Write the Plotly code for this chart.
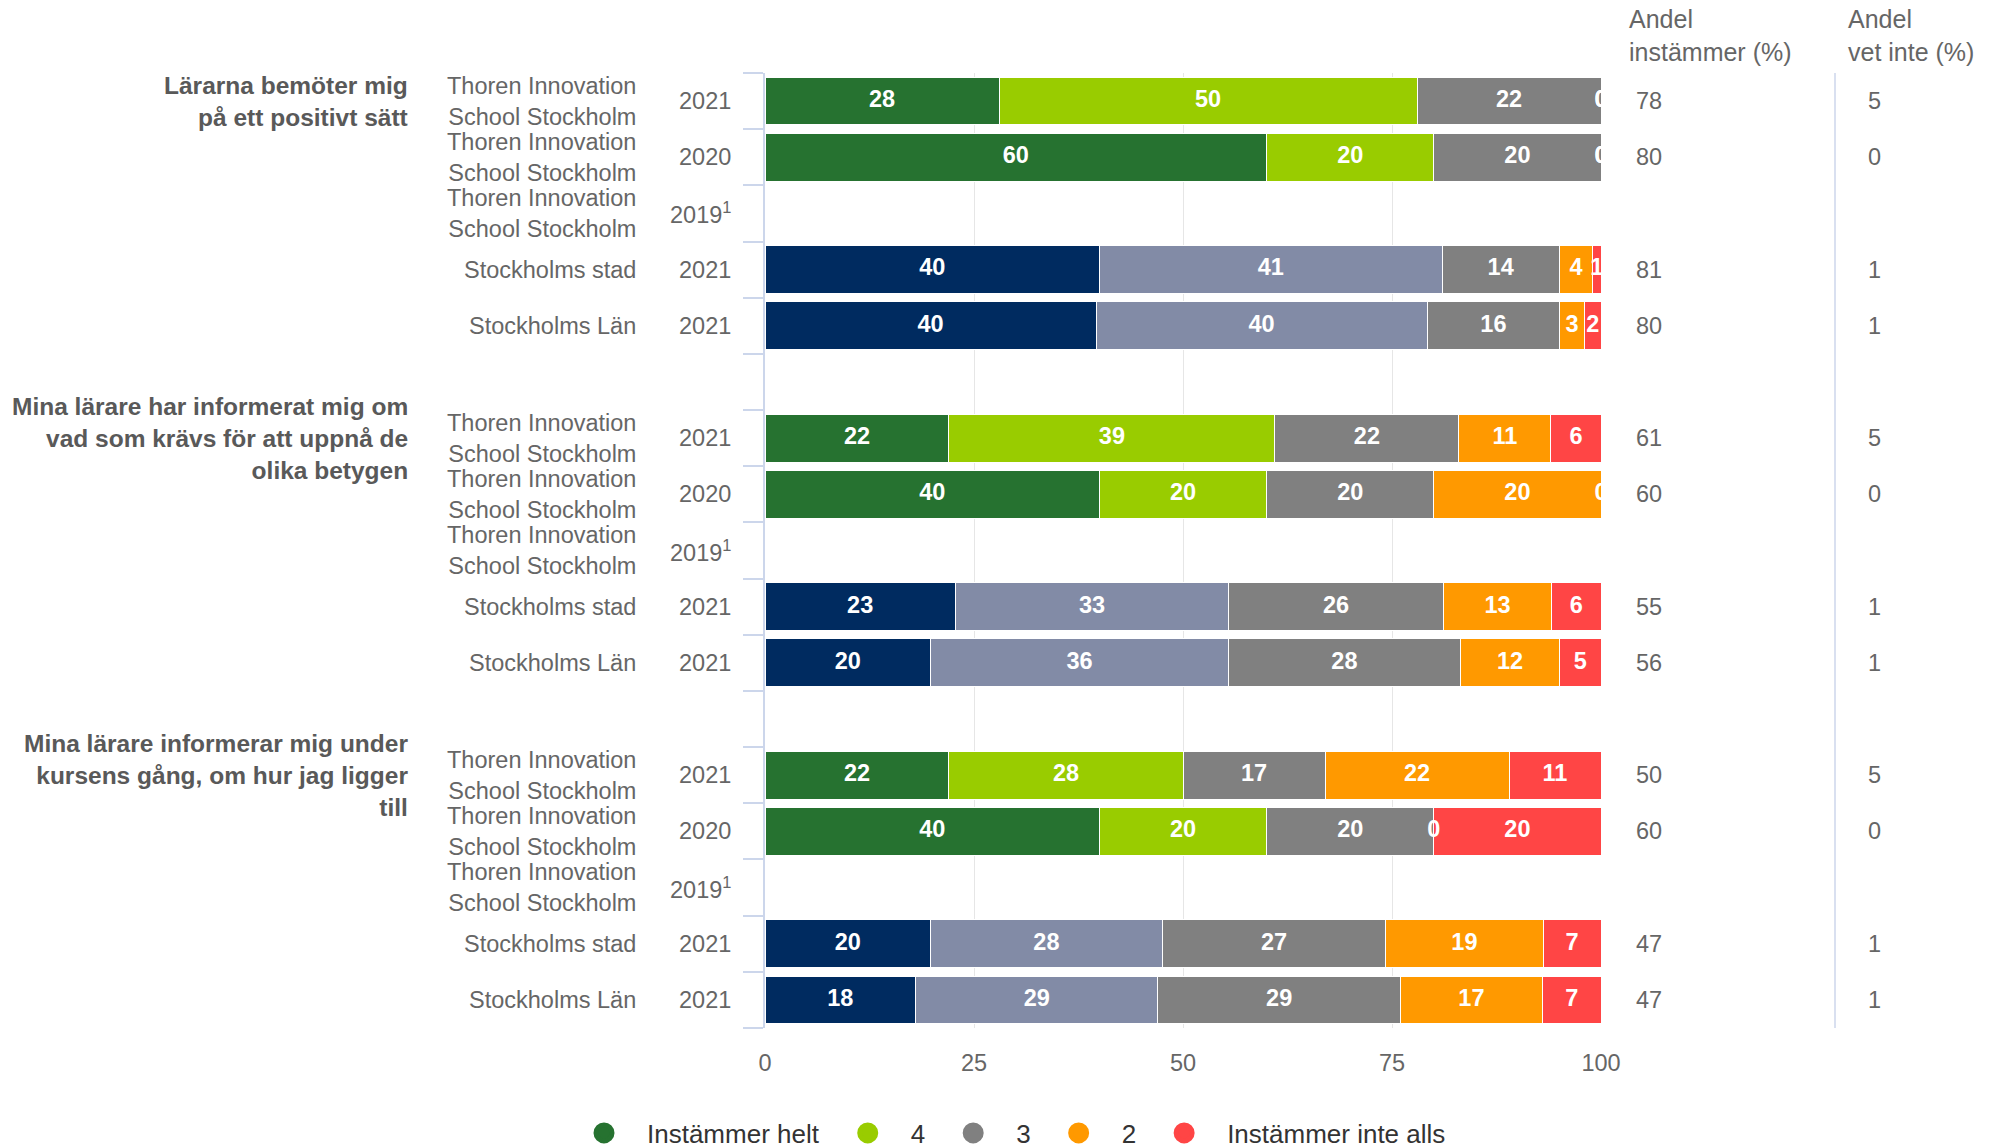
import plotly.graph_objects as go

# ---------------- data ----------------
questions = [
    "Lärarna bemöter mig<br>på ett positivt sätt",
    "Mina lärare har informerat mig om<br>vad som krävs för att uppnå de<br>olika betygen",
    "Mina lärare informerar mig under<br>kursens gång, om hur jag ligger<br>till",
]
units = ["Thoren Innovation<br>School Stockholm", "Thoren Innovation<br>School Stockholm",
         "Thoren Innovation<br>School Stockholm", "Stockholms stad", "Stockholms Län"]
years = ["2021", "2020", "2019<sup>1</sup>", "2021", "2021"]
is_school = [True, True, True, False, False]

levels = ["Instämmer helt", "4", "3", "2", "Instämmer inte alls"]
helt = [28, 60, None, 40, 40, 22, 40, None, 23, 20, 22, 40, None, 20, 18]
four = [50, 20, None, 41, 40, 39, 20, None, 33, 36, 28, 20, None, 28, 29]
three = [22, 20, None, 14, 16, 22, 20, None, 26, 28, 17, 20, None, 27, 29]
two = [0, 0, None, 4, 3, 11, 20, None, 13, 12, 22, 0, None, 19, 17]
inte = [0, 0, None, 1, 2, 6, 0, None, 6, 5, 11, 20, None, 7, 7]
andel_instammer = [78, 80, None, 81, 80, 61, 60, None, 55, 56, 50, 60, None, 47, 47]
andel_vet_inte = [5, 0, None, 1, 1, 5, 0, None, 1, 1, 5, 0, None, 1, 1]

x_ticks = [0, 25, 50, 75, 100]
header_instammer = "Andel<br>instämmer (%)"
header_vet_inte = "Andel<br>vet inte (%)"

# ---------------- style ----------------
school_colors = ["#267230", "#99cc00", "#808080", "#ff9900", "#ff4545"]
region_colors = ["#002b60", "#828ba6", "#808080", "#ff9900", "#ff4545"]
FONT = "Liberation Sans, Arial, Helvetica, sans-serif"
W, H = 1996, 1148
L, R, T, B = 765, 395, 73, 120
PW = W - L - R
PH = H - T - B


def px_x(px):
    return (px - L) / PW


series = [helt, four, three, two, inte]
n_units = len(units)
rows = []  # (row index in list, y slot)
for g in range(len(questions)):
    for r in range(n_units):
        rows.append((g * n_units + r, g * (n_units + 1) + r))
last_slot = rows[-1][1]

fig = go.Figure()

# stacked bars
for k, vals in enumerate(series):
    xs, ys, cols = [], [], []
    for i, ypos in rows:
        if vals[i] is None:
            continue
        xs.append(vals[i])
        ys.append(ypos)
        cols.append(school_colors[k] if is_school[i % n_units] else region_colors[k])
    fig.add_trace(go.Bar(
        x=xs, y=ys, orientation="h", name=levels[k], showlegend=False,
        marker=dict(color=cols, line=dict(color="white", width=1)),
        hoverinfo="skip",
    ))

# value labels at the centre of each (normalised) segment
lx, ly, lt = [], [], []
for i, ypos in rows:
    if helt[i] is None:
        continue
    total = sum(s[i] for s in series)
    cum = 0
    for s in series:
        v = s[i]
        lx.append((cum + v / 2) / total * 100)
        ly.append(ypos)
        lt.append(str(v))
        cum += v
fig.add_trace(go.Scatter(
    x=lx, y=ly, text=lt, mode="text", showlegend=False, cliponaxis=True,
    textfont=dict(family=FONT, size=23.5, color="white", weight="bold"),
    hoverinfo="skip",
))

# legend entries
for k, name in enumerate(levels):
    fig.add_trace(go.Scatter(
        x=[None], y=[None], mode="markers", name=name,
        marker=dict(symbol="circle", size=16, color=school_colors[k],
                    line=dict(color=school_colors[k], width=5)),
    ))

ann = []
lab_font = dict(family=FONT, size=23.5, color="#666666")
for i, ypos in rows:
    r = i % n_units
    ann.append(dict(x=px_x(638), xref="paper", y=ypos, yref="y", text=units[r],
                    xanchor="right", yanchor="middle", align="right", showarrow=False, font=lab_font))
    ann.append(dict(x=px_x(733), xref="paper", y=ypos, yref="y", text=years[r],
                    xanchor="right", yanchor="middle", align="right", showarrow=False, font=lab_font))
    if andel_instammer[i] is not None:
        ann.append(dict(x=px_x(1634), xref="paper", y=ypos, yref="y", text=str(andel_instammer[i]),
                        xanchor="left", yanchor="middle", showarrow=False, font=lab_font))
        ann.append(dict(x=px_x(1866), xref="paper", y=ypos, yref="y", text=str(andel_vet_inte[i]),
                        xanchor="left", yanchor="middle", showarrow=False, font=lab_font))
for g, q in enumerate(questions):
    ann.append(dict(x=px_x(410), xref="paper", y=g * (n_units + 1), yref="y", text=f"<b>{q}</b>",
                    xanchor="right", yanchor="middle", align="right", showarrow=False,
                    font=dict(family=FONT, size=24.5, color="#595959")))
hdr_font = dict(family=FONT, size=25, color="#666666")
for xpx, txt in ((1627, header_instammer), (1846, header_vet_inte)):
    ann.append(dict(x=px_x(xpx), xref="paper", y=1 + (T - 3.5) / PH, yref="paper",
                    text=txt, xanchor="left", yanchor="top", align="left",
                    showarrow=False, font=hdr_font))

fig.update_layout(
    width=W, height=H, autosize=False,
    margin=dict(l=L, r=R, t=T, b=B, autoexpand=False),
    paper_bgcolor="white", plot_bgcolor="white",
    barmode="stack", barnorm="percent", bargap=0.15,
    font=dict(family=FONT, color="#666666"),
    annotations=ann,
    shapes=[dict(type="line", xref="paper", yref="paper", x0=px_x(1835), x1=px_x(1835),
                 y0=0, y1=1, line=dict(color="#ccd6eb", width=1.5))],
    legend=dict(orientation="h", traceorder="normal", xref="paper", yref="paper",
                x=px_x(561), y=-(1133 - (H - B)) / PH, xanchor="left", yanchor="middle",
                font=dict(family=FONT, size=26, color="#333333"),
                itemwidth=76, tracegroupgap=0),
    xaxis=dict(range=[0, 100], tickvals=x_ticks, ticktext=[str(t) for t in x_ticks],
               showgrid=True, gridcolor="#e6e6e6", gridwidth=1, zeroline=False,
               showline=False, ticks="", ticklabelstandoff=18,
               tickfont=dict(family=FONT, size=23.5, color="#666666"), fixedrange=True),
    yaxis=dict(range=[last_slot + 0.5, -0.5], tickvals=[v - 0.5 for v in range(last_slot + 2)],
               showticklabels=False, ticks="outside", ticklen=20, tickcolor="#ccd6eb", tickwidth=1.5,
               showgrid=False, zeroline=False, showline=True, linecolor="#ccd6eb", linewidth=1.5,
               fixedrange=True),
)

fig.write_html("out.html")
